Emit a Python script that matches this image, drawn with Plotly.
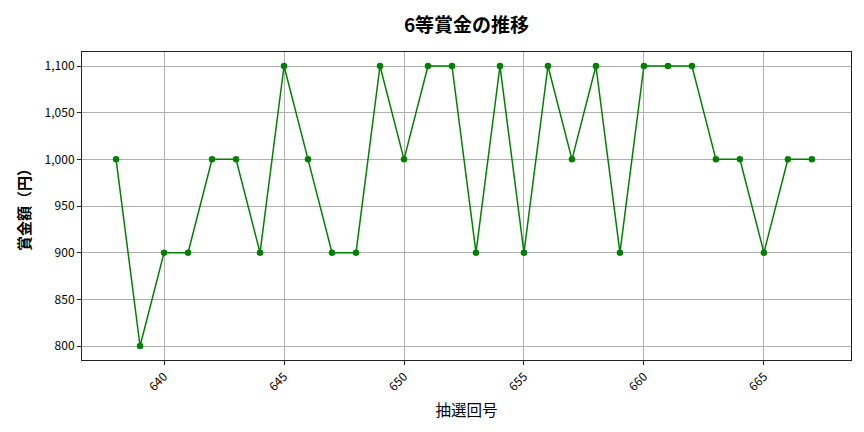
import plotly.graph_objects as go

# 抽選回 and 6等 prize amount (yen)
draws = list(range(638, 668))
prize = [1000, 800, 900, 900, 1000, 1000, 900, 1100, 1000, 900,
         900, 1100, 1000, 1100, 1100, 900, 1100, 900, 1100, 1000,
         1100, 900, 1100, 1100, 1100, 1000, 1000, 900, 1000, 1000]

x_ticks = [640, 645, 650, 655, 660, 665]
y_ticks = [800, 850, 900, 950, 1000, 1050, 1100]

FONT = "Noto Sans CJK JP"

fig = go.Figure()
fig.add_trace(go.Scatter(
    x=draws, y=prize,
    mode="lines+markers",
    line=dict(color="green", width=1.5),
    marker=dict(color="green", size=6.5),
    showlegend=False,
))

axis_common = dict(
    showgrid=True, gridcolor="#b0b0b0", gridwidth=1,
    showline=True, linecolor="#222222", linewidth=1, mirror=True,
    ticks="outside", ticklen=4, tickcolor="#222222",
    zeroline=False, automargin=False,
    tickfont=dict(family=FONT, size=12, color="black"),
)

fig.update_layout(
    width=864, height=432,
    margin=dict(l=74, r=21, t=44, b=80),
    paper_bgcolor="white", plot_bgcolor="white",
    font=dict(family=FONT, color="black"),
    title=dict(text="<b>6等賞金の推移</b>", xref="paper", x=0.5, xanchor="center",
               y=0.96, yanchor="middle",
               font=dict(family=FONT, size=19, color="black")),
    xaxis=dict(axis_common, range=[636.58, 668.63], tickvals=x_ticks,
               tickangle=-45,
               title=dict(text="抽選回号", font=dict(family=FONT, size=15.5),
                          standoff=12)),
    yaxis=dict(axis_common, range=[785, 1115], tickvals=y_ticks,
               tickformat=",d",
               title=dict(text="<b>賞金額（円）</b>", font=dict(family=FONT, size=15),
                          standoff=10)),
)

fig.write_html("out.html")
